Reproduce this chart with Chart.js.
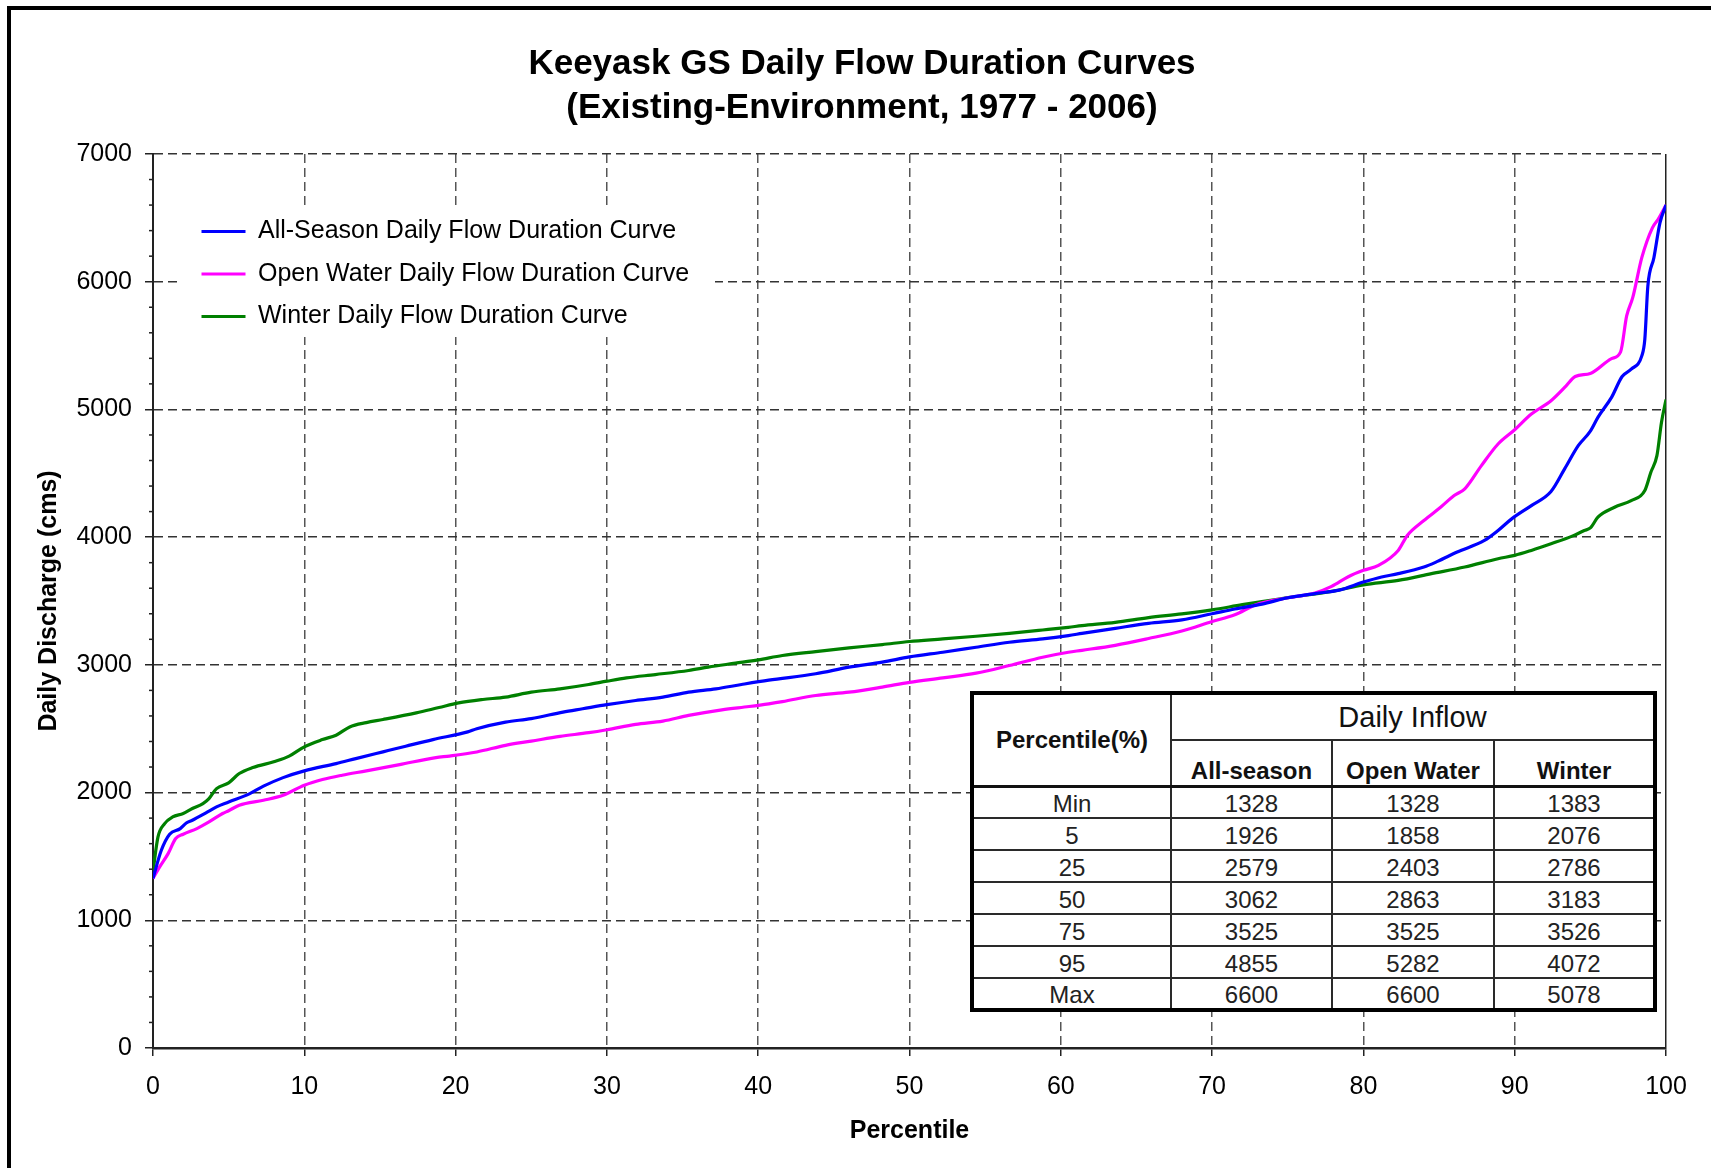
<!DOCTYPE html>
<html>
<head>
<meta charset="utf-8">
<script src="https://cdn.jsdelivr.net/npm/chart.js@4.4.1/dist/chart.umd.min.js"></script>
<style>
html,body{margin:0;padding:0;background:#fff;overflow:hidden;}
#wrap{position:relative;width:1711px;height:1168px;overflow:hidden;}
#frame{position:absolute;left:7px;top:6px;width:1760px;height:1220px;border-top:4px solid #000;border-left:4px solid #000;}
#c{position:absolute;left:0;top:0;}
#tbl{position:absolute;left:970px;top:691px;width:685px;border-collapse:collapse;border:4px solid #000;background:#fff;font-family:'Liberation Sans',Arial,sans-serif;color:#222;table-layout:fixed;}
#tbl td{border:2px solid #2a2a2a;text-align:center;padding:0;font-size:24px;line-height:1;white-space:nowrap;}
#tbl td.h{font-weight:bold;color:#111;}
#tbl td.top{font-size:29px;color:#111;}
#tbl td.sub{vertical-align:bottom;padding-bottom:2px;}
#tbl tr.hb td{border-bottom:3px solid #111;}
#tbl td.d{padding-top:3px;}
</style>
</head>
<body>
<div id="wrap">
  <div id="frame"></div>
  <canvas id="c" width="1711" height="1168"></canvas>
  <table id="tbl"></table>
</div>
<script>
// ---------- data ----------
const titleLines = ['Keeyask GS Daily Flow Duration Curves', '(Existing-Environment, 1977 - 2006)'];
const seriesLabels = ['All-Season Daily Flow Duration Curve', 'Open Water Daily Flow Duration Curve', 'Winter Daily Flow Duration Curve'];

const pctAll = [0,0.55,1.1,1.8,2.2,2.6,3.5,4.2,5,6.4,7.3,8.6,10,12.1,13.4,15.2,16.7,18.5,20.8,21.4,23.3,25,27.1,28.4,30,31.9,33.7,35.4,37.2,38.9,40.7,43.8,46,48.2,50,52.2,54.4,56.6,58.8,60.5,61.4,63.6,65.8,68,70,71.5,73.3,75,76.8,78.4,80,81.2,82.3,84,84.9,86.2,88,88.9,89.8,91.1,92.4,93.3,94.2,95,95.5,96.4,97.1,97.7,98.4,98.6,98.8,99.2,99.6,100];
const valAll = [1328,1548,1674,1718,1762,1783,1841,1888,1926,1992,2050,2117,2170,2227,2266,2319,2363,2415,2475,2500,2552,2579,2630,2656,2688,2721,2747,2786,2812,2846,2880,2930,2982,3021,3062,3099,3138,3177,3203,3229,3246,3286,3325,3352,3400,3437,3476,3525,3558,3585,3648,3688,3714,3766,3810,3883,3974,4052,4143,4247,4357,4534,4716,4830,4938,5094,5258,5315,5419,5549,5966,6188,6461,6600];

const pctOpen = [0,0.44,1,1.5,2,2.9,3.7,4.6,5,5.7,7.3,8.6,10,11.2,12.5,14.1,16.3,18.7,19.6,21.4,23.3,25,26.9,28.8,30,31.9,33.7,35.4,37.6,39.4,40.7,41.6,43.8,46,48.2,50,52.2,54.4,56.6,58.8,60.5,61.4,63.6,65.8,68,70,71.5,72.9,75,76.8,77.9,79,80,81,82.3,82.9,84,85.1,86,86.7,87.8,88.9,90,91.1,92.4,93.3,94,95,96.4,97,97.4,97.8,98.4,99.1,99.5,100];
const valOpen = [1328,1418,1522,1640,1674,1718,1770,1836,1858,1901,1940,1979,2057,2102,2136,2170,2219,2274,2286,2318,2370,2403,2440,2469,2492,2534,2560,2604,2648,2674,2695,2712,2760,2786,2826,2863,2898,2935,2995,3060,3099,3114,3153,3206,3265,3339,3392,3471,3525,3563,3614,3690,3740,3779,3896,4013,4130,4234,4326,4378,4560,4729,4841,4964,5068,5172,5258,5282,5398,5451,5732,5875,6188,6422,6492,6600];

const pctWinter = [0,0.33,0.77,1.3,2,2.6,3.3,3.7,4.2,5,5.7,6.6,8.1,9,10,11.2,12.1,13,14.1,15.2,17.4,18.9,20.2,21.8,23.3,25,26.9,28.8,30,31.3,33.2,35.4,36.7,38.5,40,41.6,43.8,46,48.2,50,52.2,54.4,56.6,58.8,60.5,61.4,63.6,65.8,68,70,72,74.2,75,77.9,80,82.3,84.5,86.7,88.9,90,91.1,92.4,93.8,94.6,95,95.5,96.6,97.7,98.6,99,99.4,99.7,100];
const valWinter = [1383,1653,1757,1809,1836,1875,1914,1953,2031,2076,2149,2196,2245,2285,2358,2415,2449,2514,2548,2572,2624,2666,2702,2729,2747,2786,2812,2846,2872,2898,2924,2956,2982,3013,3039,3073,3104,3133,3159,3183,3203,3224,3247,3273,3294,3307,3333,3370,3399,3431,3471,3511,3526,3575,3626,3661,3714,3766,3831,3857,3896,3948,4008,4052,4072,4156,4234,4286,4365,4508,4638,4898,5078];

const seriesColors = ['#0000FF', '#FF00FF', '#008000'];

// table (summary statistics)
const tableRowLabels = ['Min', '5', '25', '50', '75', '95', 'Max'];
const tableAll = [1328, 1926, 2579, 3062, 3525, 4855, 6600];
const tableOpen = [1328, 1858, 2403, 2863, 3525, 5282, 6600];
const tableWinter = [1383, 2076, 2786, 3183, 3526, 4072, 5078];
const tableHeaders = ['Percentile(%)', 'Daily Inflow', 'All-season', 'Open Water', 'Winter'];

// x / y tick settings
const xMin = 0, xMax = 100, xStep = 10;
const yMin = 0, yMax = 7000, yStep = 1000, yMinorStep = 200;

// ---------- table ----------
(function buildTable(){
  const t = document.getElementById('tbl');
  let html = '<colgroup><col style="width:199px"><col style="width:161px"><col style="width:162px"><col style="width:161px"></colgroup>';
  html += '<tr style="height:47px"><td class="h" rowspan="2">' + tableHeaders[0] + '</td><td class="top" colspan="3">' + tableHeaders[1] + '</td></tr>';
  html += '<tr class="hb" style="height:46px"><td class="h sub">' + tableHeaders[2] + '</td><td class="h sub">' + tableHeaders[3] + '</td><td class="h sub">' + tableHeaders[4] + '</td></tr>';
  for (let i = 0; i < tableRowLabels.length; i++) {
    html += '<tr style="height:32px"><td class="d">' + tableRowLabels[i] + '</td><td class="d">' + tableAll[i] + '</td><td class="d">' + tableOpen[i] + '</td><td class="d">' + tableWinter[i] + '</td></tr>';
  }
  t.innerHTML = html;
  t.rows[0].cells[0].style.borderBottom = '3px solid #111';
})();

// ---------- chart ----------
const FONT = "'Liberation Sans', Arial, Helvetica, sans-serif";
const toPts = (xs, ys) => xs.map((x, i) => ({x: x, y: ys[i]}));

const tweaks = {
  id: 'tweaks',
  afterLayout(chart) {
    const lg = chart.legend;
    if (!lg) return;
    lg.left = 184; lg.right = 184 + 560;
    lg.top = 201.5; lg.bottom = 201.5 + 200;
    if (!lg._bgWrapped) {
      lg._bgWrapped = true;
      const proto = Object.getPrototypeOf(lg);
      lg.draw = function(area) {
        const ctx = this.ctx;
        ctx.save();
        ctx.fillStyle = '#fff';
        ctx.fillRect(178, 210, 537, 127);
        ctx.restore();
        proto.draw.call(this, area);
      };
    }
  },
  afterDraw(chart) {
    const ys = chart.scales.y;
    const ctx = chart.ctx;
    const x0 = chart.chartArea.left;
    ctx.save();
    ctx.strokeStyle = '#222';
    ctx.lineWidth = 1.5;
    for (let v = yMin; v <= yMax; v += yMinorStep) {
      if (v % yStep === 0) continue;
      const py = ys.getPixelForValue(v);
      ctx.beginPath();
      ctx.moveTo(x0 - 4, py);
      ctx.lineTo(x0, py);
      ctx.stroke();
    }
    ctx.restore();
  }
};

const mkDs = (i, xs, ys) => ({
  label: seriesLabels[i], data: toPts(xs, ys),
  borderColor: seriesColors[i], backgroundColor: seriesColors[i],
  borderWidth: 3.2, pointBorderWidth: 3, pointBorderColor: seriesColors[i]
});

new Chart(document.getElementById('c'), {
  type: 'line',
  data: {
    datasets: [mkDs(0, pctAll, valAll), mkDs(1, pctOpen, valOpen), mkDs(2, pctWinter, valWinter)]
  },
  options: {
    responsive: false,
    animation: false,
    devicePixelRatio: 1,
    layout: {padding: {left: 13, right: 0, top: 0, bottom: 0}},
    elements: {
      point: {radius: 0, hoverRadius: 0},
      line: {borderWidth: 3, fill: false, cubicInterpolationMode: 'monotone'}
    },
    plugins: {
      title: {
        display: true, text: titleLines, color: '#000',
        font: {family: FONT, size: 35, weight: 'bold', lineHeight: 1.257},
        padding: {top: 42, bottom: 24}
      },
      legend: {
        display: true, position: 'chartArea', align: 'start',
        labels: {
          color: '#000', font: {family: FONT, size: 25},
          usePointStyle: true, pointStyle: 'line', pointStyleWidth: 44, padding: 17.5
        }
      },
      tooltip: {enabled: false}
    },
    scales: {
      x: {
        type: 'linear', position: 'bottom', min: xMin, max: xMax,
        ticks: {stepSize: xStep, color: '#000', font: {family: FONT, size: 25}, padding: 16, maxRotation: 0,
                callback: (v) => String(v)},
        grid: {
          color: (c) => (c.tick && c.tick.value === xMax) ? '#222' : '#555',
          lineWidth: 1.5, drawTicks: true, tickLength: 8, tickColor: '#222', tickWidth: 1.5
        },
        border: {display: true, color: '#222', width: 2.5, dash: (c) => (c.tick && c.tick.value === xMax) ? [] : [9, 5]},
        title: {display: true, text: 'Percentile', color: '#000', font: {family: FONT, size: 25, weight: 'bold'}, padding: {top: 0, bottom: 22}},
        afterFit: (s) => { s.height = 120; }
      },
      y: {
        type: 'linear', position: 'left', min: yMin, max: yMax,
        ticks: {stepSize: yStep, color: '#000', font: {family: FONT, size: 25}, padding: 13,
                callback: (v) => String(v)},
        grid: {color: '#333', lineWidth: 1.5, drawTicks: true, tickLength: 8, tickColor: '#222', tickWidth: 1.5},
        border: {display: true, color: '#222', width: 2, dash: [9, 5]},
        title: {display: true, text: 'Daily Discharge (cms)', color: '#000', font: {family: FONT, size: 25, weight: 'bold'}, padding: {top: 21, bottom: 0}},
        afterFit: (s) => { s.width = 140; }
      },
      yRight: {
        type: 'linear', position: 'right', min: yMin, max: yMax, display: true,
        ticks: {display: false}, grid: {display: false, drawTicks: false}, border: {display: false},
        afterFit: (s) => { s.width = 45; }
      }
    }
  },
  plugins: [tweaks]
});
</script>
</body>
</html>
